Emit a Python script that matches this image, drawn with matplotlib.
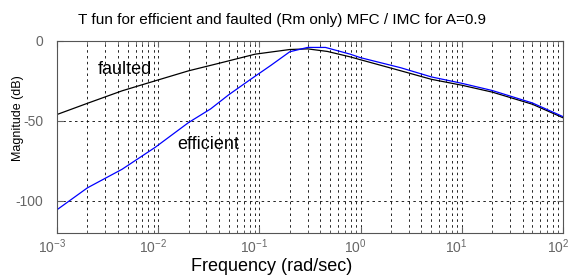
import matplotlib.pyplot as plt
from matplotlib.ticker import LogLocator, FixedLocator
from matplotlib.transforms import ScaledTranslation

plt.rcParams['font.family'] = ['Liberation Sans', 'DejaVu Sans']
plt.rcParams['axes.unicode_minus'] = False

# frequency points (rad/sec) and magnitudes (dB)
freq_faulted = [1e-3, 2e-3, 4.4e-3, 9.3e-3, 0.02, 0.043, 0.091, 0.2, 0.3, 0.47, 0.79, 1, 2.5, 5, 10, 20, 50, 100]
mag_faulted = [-46, -39, -31.2, -25, -18.7, -13.5, -8.3, -5.4, -5, -6.6, -10, -11.8, -18.7, -24, -27.7, -32, -39.6, -48]

freq_efficient = [1e-3, 2e-3, 4.4e-3, 9.3e-3, 0.02, 0.033, 0.05, 0.08, 0.13, 0.2, 0.3, 0.45, 0.79, 1, 2.5, 5, 10, 20, 50, 100]
mag_efficient = [-105.5, -91.8, -80.2, -66.6, -51, -42.5, -33.6, -24.5, -15.3, -6.8, -4.1, -4.1, -8.3, -10.5, -16.8, -22.5, -26.5, -31, -38.8, -47.3]

fig = plt.figure(figsize=(5.71, 2.78), dpi=100)
ax = fig.add_axes([0.0998, 0.162, 0.886, 0.691])

ax.semilogx(freq_faulted, mag_faulted, color='black', lw=0.9)
ax.semilogx(freq_efficient, mag_efficient, color='blue', lw=0.9)

ax.set_xlim(1e-3, 1e2)
ax.set_ylim(-120, 0)
ax.yaxis.set_major_locator(FixedLocator([-100, -50, 0]))
ax.xaxis.set_major_locator(LogLocator(base=10, numticks=10))
ax.xaxis.set_minor_locator(LogLocator(base=10, subs=range(2, 10), numticks=20))

ax.grid(True, which='both', axis='x', color='black', ls=(0, (3, 4)), lw=0.6)
ax.grid(True, which='major', axis='y', color='black', ls=(0, (3, 4)), lw=0.6)

ax.tick_params(which='both', direction='in', colors='#666666', labelsize=10, top=True, right=True)
ax.tick_params(which='major', length=4)
ax.tick_params(which='minor', length=2)
ax.tick_params(axis='x', pad=3)
ax.tick_params(axis='y', pad=10)
for s in ax.spines.values():
    s.set_color('#555555')

# x tick labels sit a little left of their ticks in the original
shift = ScaledTranslation(-5 / 100, 0, fig.dpi_scale_trans)
for lab in ax.get_xticklabels():
    lab.set_transform(lab.get_transform() + shift)

ax.text(4.7e-3, -17.7, 'faulted', fontsize=13, ha='center', va='center')
ax.text(0.031, -64.5, 'efficient', fontsize=13, ha='center', va='center')

fig.text(282 / 571, 1 - 20 / 278, 'T fun for efficient and faulted (Rm only) MFC / IMC for A=0.9',
         fontsize=11, ha='center', va='center')
ax.set_xlabel('Frequency (rad/sec)', fontsize=13)
ax.xaxis.set_label_coords(0.425, -0.13)
ax.set_ylabel('Magnitude (dB)', fontsize=9)
ax.yaxis.set_label_coords(-0.066, 0.599)

fig.savefig('out.png', dpi=100)
